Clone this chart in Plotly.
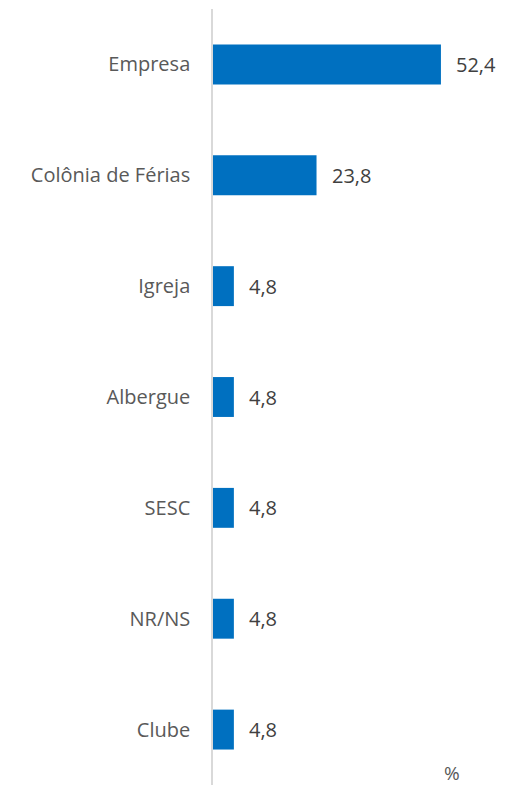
import plotly.graph_objects as go

categories = ["Empresa", "Colônia de Férias", "Igreja", "Albergue", "SESC", "NR/NS", "Clube"]
values = [52.4, 23.8, 4.8, 4.8, 4.8, 4.8, 4.8]
value_labels = [f"{v:.1f}".replace(".", ",") for v in values]

FONT = "Open Sans"
fig = go.Figure()
fig.add_trace(go.Bar(
    x=values, y=categories, orientation="h",
    marker=dict(color="#0070C0", line=dict(width=0)),
    width=0.36, hoverinfo="skip",
))
for c, v, t in zip(categories, values, value_labels):
    fig.add_annotation(x=v, y=c, text=t, showarrow=False, xanchor="left",
                       xshift=13, font=dict(family=FONT, size=20, color="#404040"))
fig.add_annotation(xref="paper", yref="paper", x=0.955, y=0.0, yanchor="bottom",
                   yshift=-3, text="%", showarrow=False,
                   font=dict(family=FONT, size=19, color="#595959"))

fig.update_layout(
    width=508, height=777,
    margin=dict(l=205, r=42, t=1, b=0),
    paper_bgcolor="white", plot_bgcolor="white",
    showlegend=False,
    xaxis=dict(range=[0, 60], visible=False, showgrid=False, zeroline=False),
    yaxis=dict(type="category", autorange="reversed", showgrid=False, zeroline=False,
               showline=True, linecolor="#d9d9d9", linewidth=1.5,
               ticks="", ticklabelstandoff=17, automargin=False,
               tickfont=dict(family=FONT, size=20, color="#595959")),
)
fig.write_html("out.html")
